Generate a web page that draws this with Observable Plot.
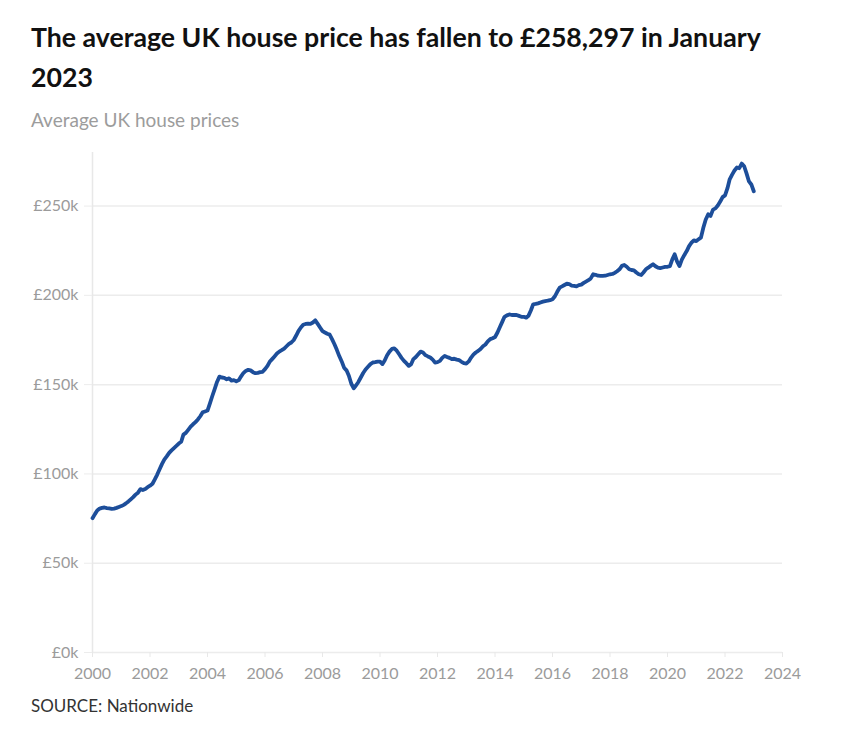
<!DOCTYPE html>
<html>
<head>
<meta charset="utf-8">
<script src="https://cdn.jsdelivr.net/npm/d3@7"></script>
<script src="https://cdn.jsdelivr.net/npm/@observablehq/plot@0.6"></script>
<style>
  html, body { margin: 0; padding: 0; background: #fff; }
  body { width: 846px; height: 738px; position: relative; overflow: hidden; font-family: Lato, "Noto Sans", sans-serif; }
  #title { position: absolute; left: 31px; top: 17px; font-size: 26.7px; font-weight: 700; line-height: 40px; color: #111; }
  #subtitle { position: absolute; left: 31px; top: 108px; font-size: 19px; color: #9c9c9c; font-weight: 400; }
  #chart { position: absolute; left: 0; top: 140px; }
  #source { position: absolute; left: 31px; top: 695px; font-size: 17px; color: #333; }
</style>
</head>
<body>
<div id="title">The average UK house price has fallen to £258,297 in January<br>2023</div>
<div id="subtitle">Average UK house prices</div>
<div id="chart"></div>
<div id="source">SOURCE: Nationwide</div>
<script>
// Monthly average UK house price (£k), Jan 2000 – Jan 2023
const startYear = 2000;
const monthlyPrices = [
  /*2000*/ 75.2, 77.5, 79.5, 80.6, 81.0, 81.2, 80.9, 80.7, 80.4, 80.6, 81.0, 81.5,
  /*2001*/ 82.0, 82.7, 83.5, 84.6, 85.8, 87.0, 88.4, 89.5, 91.5, 91.0, 91.6, 92.6,
  /*2002*/ 93.4, 94.5, 96.8, 99.5, 102.5, 105.5, 108.0, 109.8, 111.8, 113.2, 114.5, 115.7,
  /*2003*/ 117.0, 118.0, 122.0, 123.0, 124.7, 126.5, 127.8, 129.0, 130.5, 132.3, 134.5, 135.0,
  /*2004*/ 135.5, 139.5, 143.5, 147.5, 151.5, 154.5, 154.0, 153.8, 153.0, 153.5, 152.2, 152.5,
  /*2005*/ 151.8, 152.5, 154.5, 156.5, 157.7, 158.3, 158.0, 157.0, 156.4, 156.6, 157.0, 157.2,
  /*2006*/ 158.7, 160.5, 162.8, 164.3, 165.8, 167.4, 168.5, 169.3, 170.2, 171.5, 172.8, 173.6,
  /*2007*/ 175.0, 177.5, 180.0, 182.0, 183.5, 184.0, 184.2, 184.0, 184.8, 186.0, 184.0, 182.0,
  /*2008*/ 180.0, 179.2, 178.5, 178.0, 175.5, 172.6, 169.5, 166.0, 163.0, 159.5, 158.0, 155.0,
  /*2009*/ 150.5, 148.0, 149.5, 151.5, 154.0, 156.5, 158.5, 160.0, 161.5, 162.4, 162.6, 162.9,
  /*2010*/ 162.9, 161.5, 163.5, 166.5, 168.5, 170.0, 170.3, 169.0, 167.0, 165.0, 163.3, 162.0,
  /*2011*/ 160.5, 161.5, 164.3, 165.5, 167.0, 168.5, 168.0, 166.5, 165.8, 165.2, 164.0, 162.4,
  /*2012*/ 162.6, 163.3, 165.0, 166.1, 165.5, 165.0, 164.3, 164.5, 164.0, 163.7, 162.8, 162.0,
  /*2013*/ 161.8, 163.0, 165.0, 166.8, 168.0, 168.9, 170.0, 171.5, 172.5, 174.2, 175.5, 176.0,
  /*2014*/ 176.7, 179.2, 182.0, 185.0, 188.0, 188.8, 189.3, 189.0, 189.0, 189.0, 188.5, 188.0,
  /*2015*/ 188.0, 187.5, 188.5, 191.5, 195.0, 195.2, 195.5, 196.0, 196.5, 196.8, 197.0, 197.3,
  /*2016*/ 197.8, 199.5, 202.0, 204.3, 205.0, 205.8, 206.5, 206.3, 205.5, 205.3, 205.0, 205.7,
  /*2017*/ 206.0, 207.0, 207.7, 208.5, 209.5, 211.8, 211.5, 211.0, 210.9, 210.9, 211.0, 211.4,
  /*2018*/ 211.8, 212.0, 212.6, 213.5, 214.6, 216.5, 217.0, 216.0, 214.6, 214.2, 214.0, 212.8,
  /*2019*/ 211.8, 211.4, 212.8, 214.6, 215.5, 216.5, 217.4, 216.3, 215.5, 215.3, 215.6, 215.9,
  /*2020*/ 216.0, 216.4, 220.0, 223.0, 219.0, 216.4, 220.0, 222.5, 224.8, 227.6, 229.5, 230.8,
  /*2021*/ 230.4, 231.5, 232.3, 238.0, 242.5, 245.4, 244.5, 248.0, 248.7, 250.3, 252.5, 255.0,
  /*2022*/ 256.0, 260.0, 265.0, 267.6, 269.9, 271.6, 271.2, 273.8, 272.3, 268.3, 263.8, 262.1,
  /*2023*/ 258.3
];
const yTicks = [0, 50000, 100000, 150000, 200000, 250000];
const xTickYears = [2000, 2002, 2004, 2006, 2008, 2010, 2012, 2014, 2016, 2018, 2020, 2022, 2024];

const data = monthlyPrices.map((v, i) => ({
  date: new Date(Date.UTC(startYear + Math.floor(i / 12), i % 12, 1)),
  price: v * 1000
}));
const xTicks = xTickYears.map(y => new Date(Date.UTC(y, 0, 1)));
const x0 = new Date(Date.UTC(2000, 0, 1));
const x1 = new Date(Date.UTC(2024, 0, 1));

const chart = Plot.plot({
  width: 846,
  height: 552,
  marginLeft: 92,
  marginRight: 64,
  marginTop: 12,
  marginBottom: 40,
  style: { fontFamily: "Lato, 'Noto Sans', sans-serif", fontSize: "16px", background: "#fff", overflow: "visible" },
  x: { type: "utc", domain: [x0, x1], label: null },
  y: { domain: [0, 280000], label: null },
  marks: [
    Plot.ruleY(yTicks, { stroke: "#ececec", strokeWidth: 1.5 }),
    Plot.ruleX([x0], { stroke: "#e8e8e8", strokeWidth: 1.5 }),
    Plot.axisY({ ticks: yTicks, tickFormat: d => `£${d / 1000}k`, tickSize: 8, tickPadding: 6, stroke: "#ececec", fill: "#9b9b9b", fontSize: 16 }),
    Plot.axisX({ ticks: xTicks, tickFormat: d => String(d.getUTCFullYear()), tickSize: 5, tickPadding: 10, stroke: "#e8e8e8", fill: "#9b9b9b", fontSize: 16 }),
    Plot.lineY(data, { x: "date", y: "price", stroke: "#1d4e9a", strokeWidth: 3.8, strokeLinejoin: "round", strokeLinecap: "round" })
  ]
});
document.getElementById("chart").appendChild(chart);
</script>
</body>
</html>
